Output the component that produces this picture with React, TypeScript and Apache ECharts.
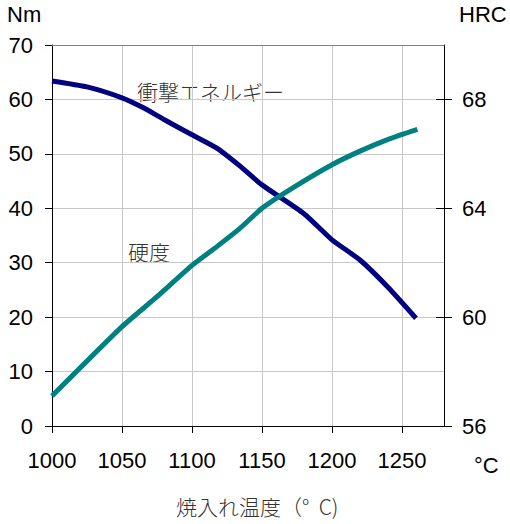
import React, { useEffect, useRef } from "react";
import * as echarts from "echarts";

const xTicks = [1000, 1050, 1100, 1150, 1200, 1250];
const energyTemp = [1000, 1025, 1050, 1065, 1080, 1100, 1118, 1135, 1150, 1180, 1200, 1220, 1240, 1260];
const energyNm = [63.4, 62.3, 60.3, 58.5, 56.3, 53.5, 51.0, 47.6, 44.3, 39.0, 34.2, 30.5, 25.5, 19.8];
const hardTemp = [1000, 1050, 1075, 1100, 1118, 1134, 1150, 1172, 1200, 1220, 1241, 1261];
const hardHRC = [57.1, 59.65, 60.75, 61.9, 62.6, 63.25, 64.0, 64.75, 65.6, 66.1, 66.55, 66.9];
const hrcTicks = [56, 60, 64, 68];

const LATIN = "'Liberation Sans', Arial, sans-serif";
const CJK = "'Noto Sans CJK JP', sans-serif";

export default function App() {
  const ref = useRef<HTMLDivElement>(null);
  useEffect(() => {
    document.body.style.margin = "0";
    const chart = echarts.init(ref.current!, null, { renderer: "svg" });
    const energyData = energyTemp.map((t, i) => [t, energyNm[i]]);
    const hardData = hardTemp.map((t, i) => [t, hardHRC[i]]);
    chart.setOption({
      animation: false,
      backgroundColor: "#ffffff",
      grid: { left: 52, right: 66, top: 45, bottom: 98, containLabel: false },
      xAxis: [
        {
          type: "value",
          min: 1000,
          max: 1280,
          interval: 50,
          axisLine: { show: true, lineStyle: { color: "#000", width: 1 } },
          axisTick: { show: true, length: 7, lineStyle: { color: "#000" }, customValues: xTicks },
          axisLabel: {
            show: true,
            margin: 23,
            fontSize: 22,
            fontFamily: LATIN,
            color: "#000",
            customValues: xTicks,
            formatter: (v: number) => (v % 50 === 0 ? String(v) : ""),
          },
          splitLine: { show: true, lineStyle: { color: "#c8c8c8", width: 1 } },
        },
        {
          type: "value",
          position: "top",
          min: 1000,
          max: 1280,
          axisLine: { show: true, onZero: false, lineStyle: { color: "#808080", width: 1 } },
          axisTick: { show: false },
          axisLabel: { show: false },
          splitLine: { show: false },
        },
      ],
      yAxis: [
        {
          type: "value",
          min: 0,
          max: 70,
          interval: 10,
          axisLine: { show: true, lineStyle: { color: "#000", width: 1 } },
          axisTick: { show: true, length: 7, lineStyle: { color: "#000" } },
          axisLabel: { margin: 19, fontSize: 22, fontFamily: LATIN, color: "#000" },
          splitLine: { show: true, lineStyle: { color: "#c8c8c8", width: 1 } },
        },
        {
          type: "value",
          position: "right",
          min: 56,
          max: 70,
          interval: 4,
          axisLine: { show: true, lineStyle: { color: "#000", width: 1 } },
          axisTick: { show: true, length: 8, lineStyle: { color: "#000" }, customValues: hrcTicks },
          axisLabel: {
            margin: 18,
            fontSize: 22,
            fontFamily: LATIN,
            color: "#000",
            customValues: hrcTicks,
            formatter: (v: number) => (v === 70 ? "" : String(v)),
          },
          splitLine: { show: false },
        },
        {
          type: "value",
          position: "right",
          min: 56,
          max: 70,
          interval: 4,
          axisLine: { show: false },
          axisTick: {
            show: true,
            inside: true,
            length: 8,
            lineStyle: { color: "#000" },
            customValues: [60, 64, 68],
          },
          axisLabel: { show: false },
          splitLine: { show: false },
        },
      ],
      series: [
        {
          type: "line",
          name: "衝撃エネルギー",
          xAxisIndex: 0,
          yAxisIndex: 0,
          data: energyData,
          smooth: 0.2,
          showSymbol: false,
          lineStyle: { color: "#000080", width: 5 },
          z: 3,
        },
        {
          type: "line",
          name: "硬度",
          xAxisIndex: 0,
          yAxisIndex: 1,
          data: hardData,
          smooth: 0.2,
          showSymbol: false,
          lineStyle: { color: "#008080", width: 5 },
          z: 4,
        },
      ],
      graphic: [
        { type: "text", left: 7, top: 3, style: { text: "Nm", font: `22px ${LATIN}`, fill: "#000" } },
        { type: "text", left: 459, top: 3, style: { text: "HRC", font: `22px ${LATIN}`, fill: "#000" } },
        { type: "text", left: 474, top: 454, style: { text: "°C", font: `22px ${LATIN}`, fill: "#000" } },
        { type: "text", left: 137, top: 80, style: { text: "衝撃エネルギー", font: `300 21px ${CJK}`, fill: "#333" } },
        { type: "text", left: 128, top: 240, style: { text: "硬度", font: `300 21px ${CJK}`, fill: "#333" } },
        { type: "text", left: 176, top: 495, style: { text: "焼入れ温度（°  C)", font: `300 21px ${CJK}`, fill: "#333" } },
      ],
    });
    return () => chart.dispose();
  }, []);
  return <div ref={ref} style={{ width: 510, height: 524 }} />;
}
